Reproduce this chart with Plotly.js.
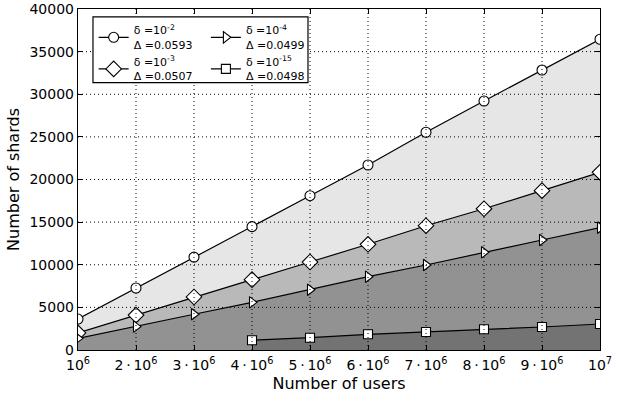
<!DOCTYPE html>
<html>
<head>
<meta charset="utf-8">
<script src="https://cdn.plot.ly/plotly-3.0.1.min.js"></script>
<style>html,body{margin:0;padding:0;background:#fff;}#chart{width:622px;height:402px;}</style>
</head>
<body>
<div id="chart"></div>
<script>
const users = [1e6, 2e6, 3e6, 4e6, 5e6, 6e6, 7e6, 8e6, 9e6, 1e7];
const usersSquare = [4e6, 5e6, 6e6, 7e6, 8e6, 9e6, 1e7];
const shardsDelta2 = [3630, 7270, 10900, 14470, 18100, 21700, 25540, 29210, 32840, 36450];
const shardsDelta3 = [2000, 4100, 6220, 8250, 10320, 12400, 14580, 16570, 18690, 20840];
const shardsDelta4 = [1370, 2740, 4190, 5590, 7070, 8600, 9970, 11460, 12900, 14350];
const shardsDelta15 = [1140, 1440, 1840, 2110, 2430, 2700, 3050];
const seriesNames = [
  'δ =10<sup>-2</sup><br>Δ =0.0593',
  'δ =10<sup>-3</sup><br>Δ =0.0507',
  'δ =10<sup>-4</sup><br>Δ =0.0499',
  'δ =10<sup>-15</sup><br>Δ =0.0498'
];
const xTickVals = [1e6, 2e6, 3e6, 4e6, 5e6, 6e6, 7e6, 8e6, 9e6, 1e7];
const xTickText = ['10<sup>6</sup>', '2\u2009·\u200910<sup>6</sup>', '3\u2009·\u200910<sup>6</sup>', '4\u2009·\u200910<sup>6</sup>',
  '5\u2009·\u200910<sup>6</sup>', '6\u2009·\u200910<sup>6</sup>', '7\u2009·\u200910<sup>6</sup>',
  '8\u2009·\u200910<sup>6</sup>', '9\u2009·\u200910<sup>6</sup>', '10<sup>7</sup>'];
const yTickVals = [0, 5000, 10000, 15000, 20000, 25000, 30000, 35000, 40000];

const series = [
  {x: users, y: shardsDelta2, fill: '#e6e6e6', symbol: 'circle', legend: 'legend', size: 10},
  {x: users, y: shardsDelta3, fill: '#b9b9b9', symbol: 'diamond', legend: 'legend', size: 12},
  {x: users, y: shardsDelta4, fill: '#929292', symbol: 'triangle-right', legend: 'legend2', size: 10},
  {x: usersSquare, y: shardsDelta15, fill: '#737373', symbol: 'square', legend: 'legend2', size: 9}
];

const traces = [];
series.forEach(s => {
  traces.push({x: s.x, y: s.y, type: 'scatter', mode: 'none', fill: 'tozeroy',
    fillcolor: s.fill, showlegend: false, hoverinfo: 'skip'});
});
series.forEach((s, i) => {
  traces.push({x: s.x, y: s.y, type: 'scatter', mode: 'lines+markers', name: seriesNames[i],
    legend: s.legend, line: {color: '#000', width: 1.2},
    marker: {symbol: s.symbol, size: s.size, color: '#fff', line: {color: '#000', width: 1.1}},
    cliponaxis: true});
});

const gridLine = {color: '#000', width: 1, dash: '1px,3px'};
const shapes = [];
xTickVals.slice(1, -1).forEach(v => shapes.push({type: 'line', xref: 'x', yref: 'paper', x0: v, x1: v, y0: 0, y1: 1,
  line: gridLine, layer: 'above'}));
yTickVals.slice(1, -1).forEach(v => shapes.push({type: 'line', xref: 'paper', yref: 'y', x0: 0, x1: 1, y0: v, y1: v,
  line: gridLine, layer: 'above'}));
shapes.push({type: 'rect', xref: 'paper', yref: 'paper', x0: 0.0287, x1: 0.4406, y0: 0.784, y1: 0.9767,
  line: {color: '#000', width: 1.2}, fillcolor: 'rgba(255,255,255,1)', layer: 'above'});

const font = {family: 'DejaVu Sans, sans-serif', color: '#000'};
const axisCommon = {showgrid: false, zeroline: false, ticks: 'inside', ticklen: 5, tickcolor: '#000',
  showline: true, linecolor: '#000', linewidth: 1.2, mirror: 'allticks', ticklabeloverflow: 'allow',
  tickfont: {size: 14, family: 'DejaVu Sans'}};
const layout = {
  width: 622, height: 402,
  margin: {l: 78, r: 22, t: 9, b: 52},
  paper_bgcolor: '#fff', plot_bgcolor: '#fff',
  font: font,
  showlegend: true,
  xaxis: Object.assign({}, axisCommon, {range: [1e6, 1e7], tickvals: xTickVals, ticktext: xTickText,
    ticklabelstandoff: 2,
    title: {text: 'Number of users', font: {size: 16, family: 'DejaVu Sans'}, standoff: 5}}),
  yaxis: Object.assign({}, axisCommon, {range: [0, 40000], tickvals: yTickVals, ticktext: yTickVals.map(String),
    title: {text: 'Number of shards', font: {size: 16, family: 'DejaVu Sans'}, standoff: 5}}),
  legend: {x: 0.03, y: 0.978, xanchor: 'left', yanchor: 'top', bgcolor: 'rgba(0,0,0,0)', borderwidth: 0,
    font: {size: 11, family: 'DejaVu Sans'}, itemwidth: 30, tracegroupgap: 0},
  legend2: {x: 0.245, y: 0.978, xanchor: 'left', yanchor: 'top', bgcolor: 'rgba(0,0,0,0)', borderwidth: 0,
    font: {size: 11, family: 'DejaVu Sans'}, itemwidth: 30, tracegroupgap: 0},
  shapes: shapes
};

Plotly.newPlot('chart', traces, layout, {staticPlot: true, displayModeBar: false});
</script>
</body>
</html>
